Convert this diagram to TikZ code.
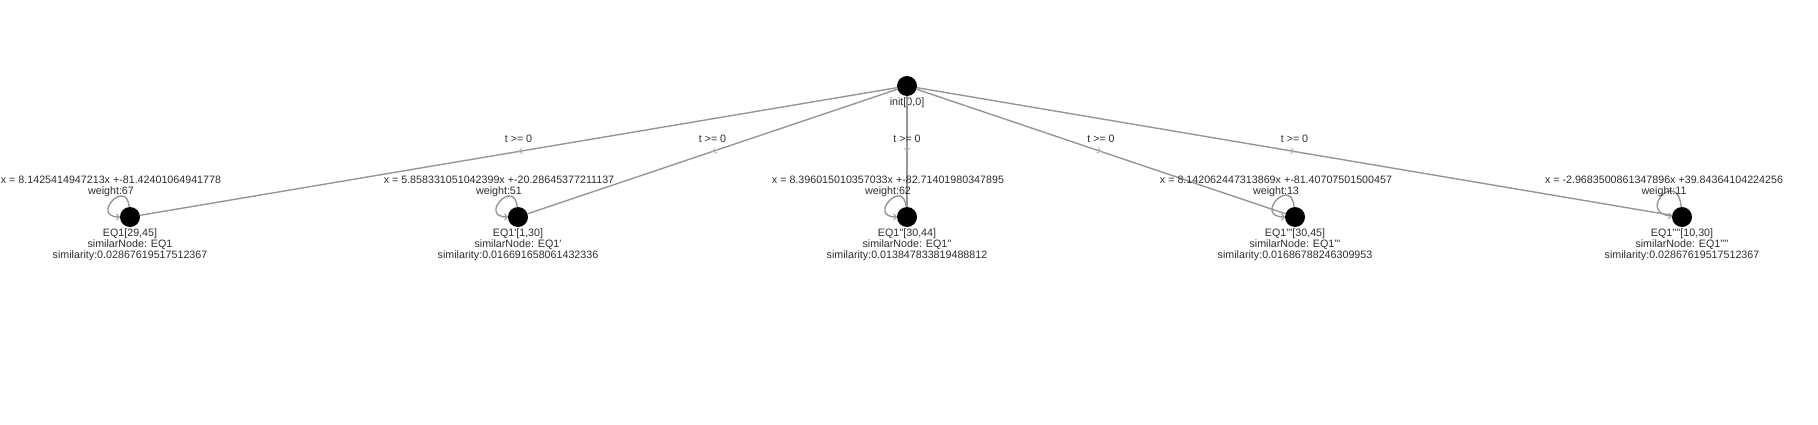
\documentclass[tikz,border=0pt]{standalone}
\usepackage{fontspec}
\setmainfont{Liberation Sans}[Ligatures=TeXOff]
\usetikzlibrary{arrows.meta,decorations.markings}
\definecolor{edgegray}{RGB}{150,150,150}
\definecolor{arrgray}{RGB}{175,175,175}
\definecolor{txt}{RGB}{45,45,45}
\begin{document}
\begin{tikzpicture}[x=1pt,y=1pt,
  vert/.style={circle,fill=black,minimum size=20pt,inner sep=0pt,outer sep=0pt},
  lbl/.style={font=\fontsize{10.7}{11}\selectfont,text=txt,inner sep=0pt,align=center},
  conn/.style={draw=edgegray,line width=1.4pt,postaction={decorate},
    decoration={markings,mark=at position 0.5 with {\arrow[arrgray]{Straight Barb[length=3pt,width=6pt,line width=0.8pt]}}}},
  selfloop/.style={draw=edgegray,line width=1.4pt,-{Straight Barb[length=3pt,width=6pt,line width=0.8pt]}}
]
\useasboundingbox (0,0) rectangle (1818,424);
% vertices
\node[vert] (init) at (907,338) {};
\node[vert] (a) at (130,207) {};
\node[vert] (b) at (518,207) {};
\node[vert] (c) at (907,207) {};
\node[vert] (d) at (1295,207) {};
\node[vert] (e) at (1682,207) {};
% vertex labels
\node[lbl] (linit) at (907,321.5) {init[0,0]};
\node[lbl] (la) at (130,179.5) {EQ1[29,45]\\similarNode: EQ1\\similarity:0.02867619517512367};
\node[lbl] (lb) at (518,179.5) {EQ1'[1,30]\\similarNode: EQ1'\\similarity:0.016691658061432336};
\node[lbl] (lc) at (907,179.5) {EQ1''[30,44]\\similarNode: EQ1''\\similarity:0.013847833819488812};
\node[lbl] (ld) at (1295,179.5) {EQ1'''[30,45]\\similarNode: EQ1'''\\similarity:0.01686788246309953};
\node[lbl] (le) at (1682,179.5) {EQ1''''[10,30]\\similarNode: EQ1''''\\similarity:0.02867619517512367};
% edges
\foreach \t in {a,b,c,d,e}{
  \path[conn] (init) -- node[lbl,yshift=12.5pt] {t >= 0} (\t);
}
% self loops
\draw[selfloop] (a.95) .. controls +(95:30pt) and +(180:30pt) .. (a.180);
\draw[selfloop] (b.95) .. controls +(95:30pt) and +(180:30pt) .. (b.180);
\draw[selfloop] (c.95) .. controls +(95:30pt) and +(180:30pt) .. (c.180);
\draw[selfloop] (d.95) .. controls +(95:32pt) and +(180:32pt) .. (d.180);
\draw[selfloop] (e.95) .. controls +(95:40pt) and +(175:36pt) .. (e.175);
% loop labels
\node[lbl] (wa) at (111,238) {x = 8.1425414947213x +-81.42401064941778\\weight:67};
\node[lbl] (wb) at (499,238) {x = 5.858331051042399x +-20.28645377211137\\weight:51};
\node[lbl] (wc) at (888,238) {x = 8.396015010357033x +-82.71401980347895\\weight:62};
\node[lbl] (wd) at (1276,238) {x = 8.142062447313869x +-81.40707501500457\\weight:13};
\node[lbl] (we) at (1664,238) {x = -2.9683500861347896x +39.84364104224256\\weight:11};
\end{tikzpicture}
\end{document}
